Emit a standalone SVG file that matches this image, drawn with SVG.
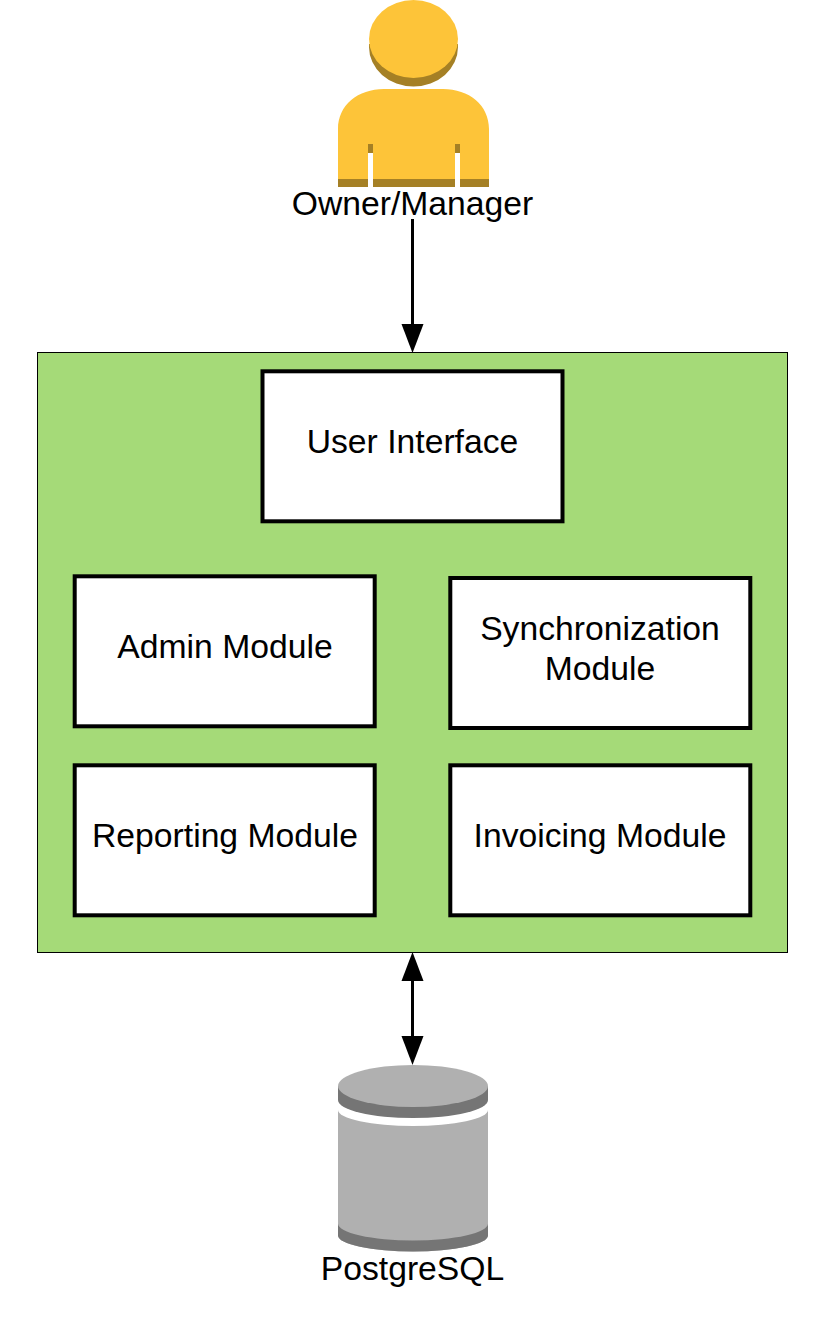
<svg xmlns="http://www.w3.org/2000/svg" width="838" height="1317" viewBox="0 0 838 1317">
<style>
.t{font-family:"Liberation Sans",Arial,sans-serif;font-size:33.7px;fill:#000;text-anchor:middle}
.m{fill:#fff;stroke:#000;stroke-width:4}
.c{fill:none;stroke:#000;stroke-width:3}
.h{fill:#000}
</style>
<rect width="838" height="1317" fill="#fff"/>
<g id="owner">
<path d="M369 44H458V47A44.500 39.500 0 0 1 369 47Z" fill="#a58025"/>
<ellipse cx="413.500" cy="39" rx="44.500" ry="39" fill="#fdc439"/>
<path d="M338 187V129C338 105 358 89 384 89H443C469 89 489 105 489 129V187H460V152H455V187H373V152H368V187Z" fill="#fdc439"/>
<path d="M338 179H368V187H338ZM373 179H455V187H373ZM460 179H489V187H460ZM368 144H373V153H368ZM455 144H460V153H455Z" fill="#a58025"/>
<text class="t" x="412.500" y="214.500">Owner/Manager</text>
</g>
<g id="system"><rect x="37.500" y="352.500" width="750" height="600" fill="#a5da78" stroke="#000" stroke-width="1"/></g>
<g id="ui"><rect class="m" x="262.500" y="371.300" width="300" height="150"/><text class="t" x="412.500" y="452.700">User Interface</text></g>
<g id="admin"><rect class="m" x="74.700" y="576.300" width="300" height="150"/><text class="t" x="225" y="657.500">Admin Module</text></g>
<g id="sync"><rect class="m" x="450.300" y="578" width="300" height="150"/><text class="t" x="600" y="639.500">Synchronization</text><text class="t" x="600" y="679.500">Module</text></g>
<g id="reporting"><rect class="m" x="74.700" y="765.300" width="300" height="150"/><text class="t" x="225" y="846.500">Reporting Module</text></g>
<g id="invoicing"><rect class="m" x="450.300" y="765.300" width="300" height="150"/><text class="t" x="600" y="846.500">Invoicing Module</text></g>
<g id="postgres">
<path d="M338 1086V1100A75 18 0 0 0 488 1100V1086Z" fill="#757575"/>
<ellipse cx="413" cy="1086" rx="75" ry="21" fill="#b0b0b0"/>
<path d="M338 1110A75 16 0 0 0 488 1110V1235.500A75 16 0 0 1 338 1235.500Z" fill="#b0b0b0"/>
<path d="M338 1223.500V1235.500A75 16 0 0 0 488 1235.500V1223.500A75 17 0 0 1 338 1223.500Z" fill="#757575"/>
<text class="t" x="412.500" y="1279.500">PostgreSQL</text>
</g>
<g id="connectors">
<path class="c" d="M412.500 219V330"/>
<path class="h" d="M401.500 324H423.500L412.500 353Z"/>
<path class="c" d="M412.500 975V1042"/>
<path class="h" d="M401.500 981H423.500L412.500 952Z"/>
<path class="h" d="M401.500 1036H423.500L412.500 1065Z"/>
</g>
</svg>
